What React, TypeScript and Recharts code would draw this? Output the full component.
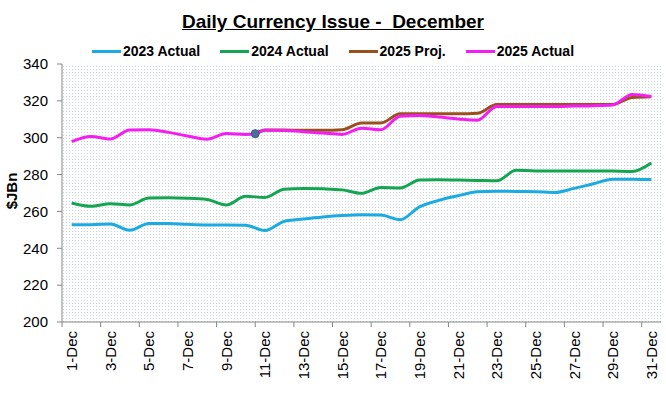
import React from 'react';
import { LineChart, Line, XAxis, YAxis, CartesianGrid, ReferenceDot } from 'recharts';

const days = [1, 2, 3, 4, 5, 6, 7, 8, 9, 10, 11, 12, 13, 14, 15, 16, 17, 18, 19, 20, 21, 22, 23, 24, 25, 26, 27, 28, 29, 30, 31];
const tickDays = [1, 3, 5, 7, 9, 11, 13, 15, 17, 19, 21, 23, 25, 27, 29, 31];
const tickLabels = ['1-Dec', '3-Dec', '5-Dec', '7-Dec', '9-Dec', '11-Dec', '13-Dec', '15-Dec', '17-Dec', '19-Dec', '21-Dec', '23-Dec', '25-Dec', '27-Dec', '29-Dec', '31-Dec'];
const yTicks = [200, 220, 240, 260, 280, 300, 320, 340];

const actual2023 = [252.8, 252.8, 253.2, 249.8, 253.5, 253.5, 253.0, 252.7, 252.7, 252.5, 249.6, 254.6, 255.9, 257.0, 257.8, 258.2, 258.0, 255.5, 262.5, 266.0, 268.5, 270.7, 271.0, 270.8, 270.7, 270.3, 272.5, 275.0, 277.5, 277.4, 277.3];
const actual2024 = [264.6, 262.8, 264.2, 263.5, 267.3, 267.4, 267.2, 266.5, 263.5, 268.2, 267.6, 272.1, 272.5, 272.3, 271.7, 269.8, 273.0, 272.7, 277.0, 277.2, 277.0, 276.8, 276.6, 282.3, 282.0, 282.0, 282.0, 282.0, 281.9, 281.7, 286.3];
const actual2025 = [297.9, 300.7, 299.3, 304.2, 304.3, 302.9, 300.9, 299.2, 302.3, 301.8, 304.0, 303.9, 303.3, 302.5, 301.8, 305.2, 304.3, 311.6, 312.0, 311.2, 310.2, 309.5, 317.0, 317.0, 317.0, 317.0, 317.2, 317.4, 317.8, 323.5, 322.4];
const proj2025 = [null, null, null, null, null, null, null, null, null, null, 304.2, 304.2, 304.0, 304.0, 304.3, 308.0, 308.0, 313.0, 313.0, 313.0, 313.0, 313.3, 318.0, 318.0, 318.0, 318.0, 318.0, 318.0, 318.0, 321.8, 322.2];
const markerDay = 10.5;
const markerValue = 302.2;

const seriesNames = ['2023 Actual', '2024 Actual', '2025 Proj.', '2025 Actual'];
const seriesColors = ['#1CAAE2', '#14A550', '#9A501C', '#F51EF0'];

const baseRows = days.map((d, i) => ({
  day: d,
  a2023: actual2023[i],
  a2024: actual2024[i],
  a2025: actual2025[i],
  p2025: proj2025[i],
}));
const rows = [
  ...baseRows.filter((r) => r.day < markerDay),
  { day: markerDay, a2023: null, a2024: null, a2025: markerValue, p2025: markerValue },
  ...baseRows.filter((r) => r.day > markerDay),
];

const W = 666;
const H = 397;
const MARGIN = { top: 64, right: 5, bottom: 15, left: 12 };
const Y_AXIS_W = 50;
const X_AXIS_H = 60;
const PLOT_W = W - MARGIN.left - MARGIN.right - Y_AXIS_W;
const HALF_DAY = PLOT_W / days.length / 2;
const AXIS_COLOR = '#868686';
const FONT = '"Liberation Sans", Arial, sans-serif';

const XTick = (props: any) => {
  const { x, y, payload } = props;
  const idx = tickDays.indexOf(payload.value);
  const label = idx >= 0 ? tickLabels[idx] : '';
  const bx = x - HALF_DAY;
  const ty = y + 9;
  return (
    <g>
      <line x1={bx} x2={bx} y1={y} y2={y + 5} stroke={AXIS_COLOR} strokeWidth={1} />
      <text
        x={x}
        y={ty}
        transform={`rotate(-90 ${x} ${ty})`}
        textAnchor="end"
        dominantBaseline="central"
        fontSize={15}
        fontFamily={FONT}
        fill="#000"
      >
        {label}
      </text>
    </g>
  );
};

export default function App() {
  return (
    <div style={{ position: 'absolute', left: 0, top: 0, width: W, height: H, background: '#fff', fontFamily: FONT }}>
      <div
        style={{
          position: 'absolute',
          left: 0,
          top: 11,
          width: W,
          textAlign: 'center',
          fontSize: 19,
          lineHeight: '22px',
          fontWeight: 'bold',
          textDecoration: 'underline',
          whiteSpace: 'pre',
          color: '#000',
        }}
      >
        {'Daily Currency Issue -  December'}
      </div>
      <div
        style={{
          position: 'absolute',
          left: 0,
          top: 43,
          width: W,
          display: 'flex',
          justifyContent: 'center',
          gap: 20,
          fontSize: 14,
          lineHeight: '16px',
          fontWeight: 'bold',
          color: '#000',
        }}
      >
        {seriesNames.map((n, i) => (
          <div key={n} style={{ display: 'flex', alignItems: 'center', gap: 2 }}>
            <div style={{ width: 29, height: 3, background: seriesColors[i] }} />
            <span>{n}</span>
          </div>
        ))}
      </div>
      <div
        style={{
          position: 'absolute',
          left: 11,
          top: 191,
          transform: 'translate(-50%, -50%) rotate(-90deg)',
          fontSize: 15,
          fontWeight: 'bold',
          whiteSpace: 'nowrap',
          color: '#000',
        }}
      >
        $JBn
      </div>
      <LineChart width={W} height={H} data={rows} margin={MARGIN}>
        <defs>
          <pattern id="dots" x="0" y="0" width="3" height="3" patternUnits="userSpaceOnUse">
            <rect x="0" y="0" width="3" height="3" fill="#ffffff" />
            <rect x="0" y="0" width="1" height="1" fill="#c6d3de" />
          </pattern>
        </defs>
        <CartesianGrid horizontal={false} vertical={false} fill="url(#dots)" stroke="none" />
        <XAxis
          dataKey="day"
          type="number"
          domain={[0.5, 31.5]}
          ticks={tickDays}
          interval={0}
          height={X_AXIS_H}
          tickLine={false}
          tickSize={0}
          tickMargin={0}
          tick={<XTick />}
          axisLine={{ stroke: AXIS_COLOR }}
          allowDataOverflow
        />
        <YAxis
          type="number"
          domain={[200, 340]}
          ticks={yTicks}
          interval={0}
          width={Y_AXIS_W}
          tickSize={5}
          tickMargin={9}
          tickLine={{ stroke: AXIS_COLOR }}
          axisLine={{ stroke: AXIS_COLOR }}
          tick={{ fontSize: 15, fontFamily: FONT, fill: '#000' }}
        />
        <Line dataKey="a2023" name={seriesNames[0]} stroke={seriesColors[0]} strokeWidth={3} type="monotone" dot={false} connectNulls isAnimationActive={false} />
        <Line dataKey="a2024" name={seriesNames[1]} stroke={seriesColors[1]} strokeWidth={3} type="monotone" dot={false} connectNulls isAnimationActive={false} />
        <Line dataKey="p2025" name={seriesNames[2]} stroke={seriesColors[2]} strokeWidth={3} type="monotone" dot={false} connectNulls isAnimationActive={false} />
        <Line dataKey="a2025" name={seriesNames[3]} stroke={seriesColors[3]} strokeWidth={3} type="monotone" dot={false} connectNulls isAnimationActive={false} />
        <ReferenceDot x={markerDay} y={markerValue} r={4} fill="#4B6E9C" stroke="#3A5A85" strokeWidth={1} />
      </LineChart>
    </div>
  );
}
